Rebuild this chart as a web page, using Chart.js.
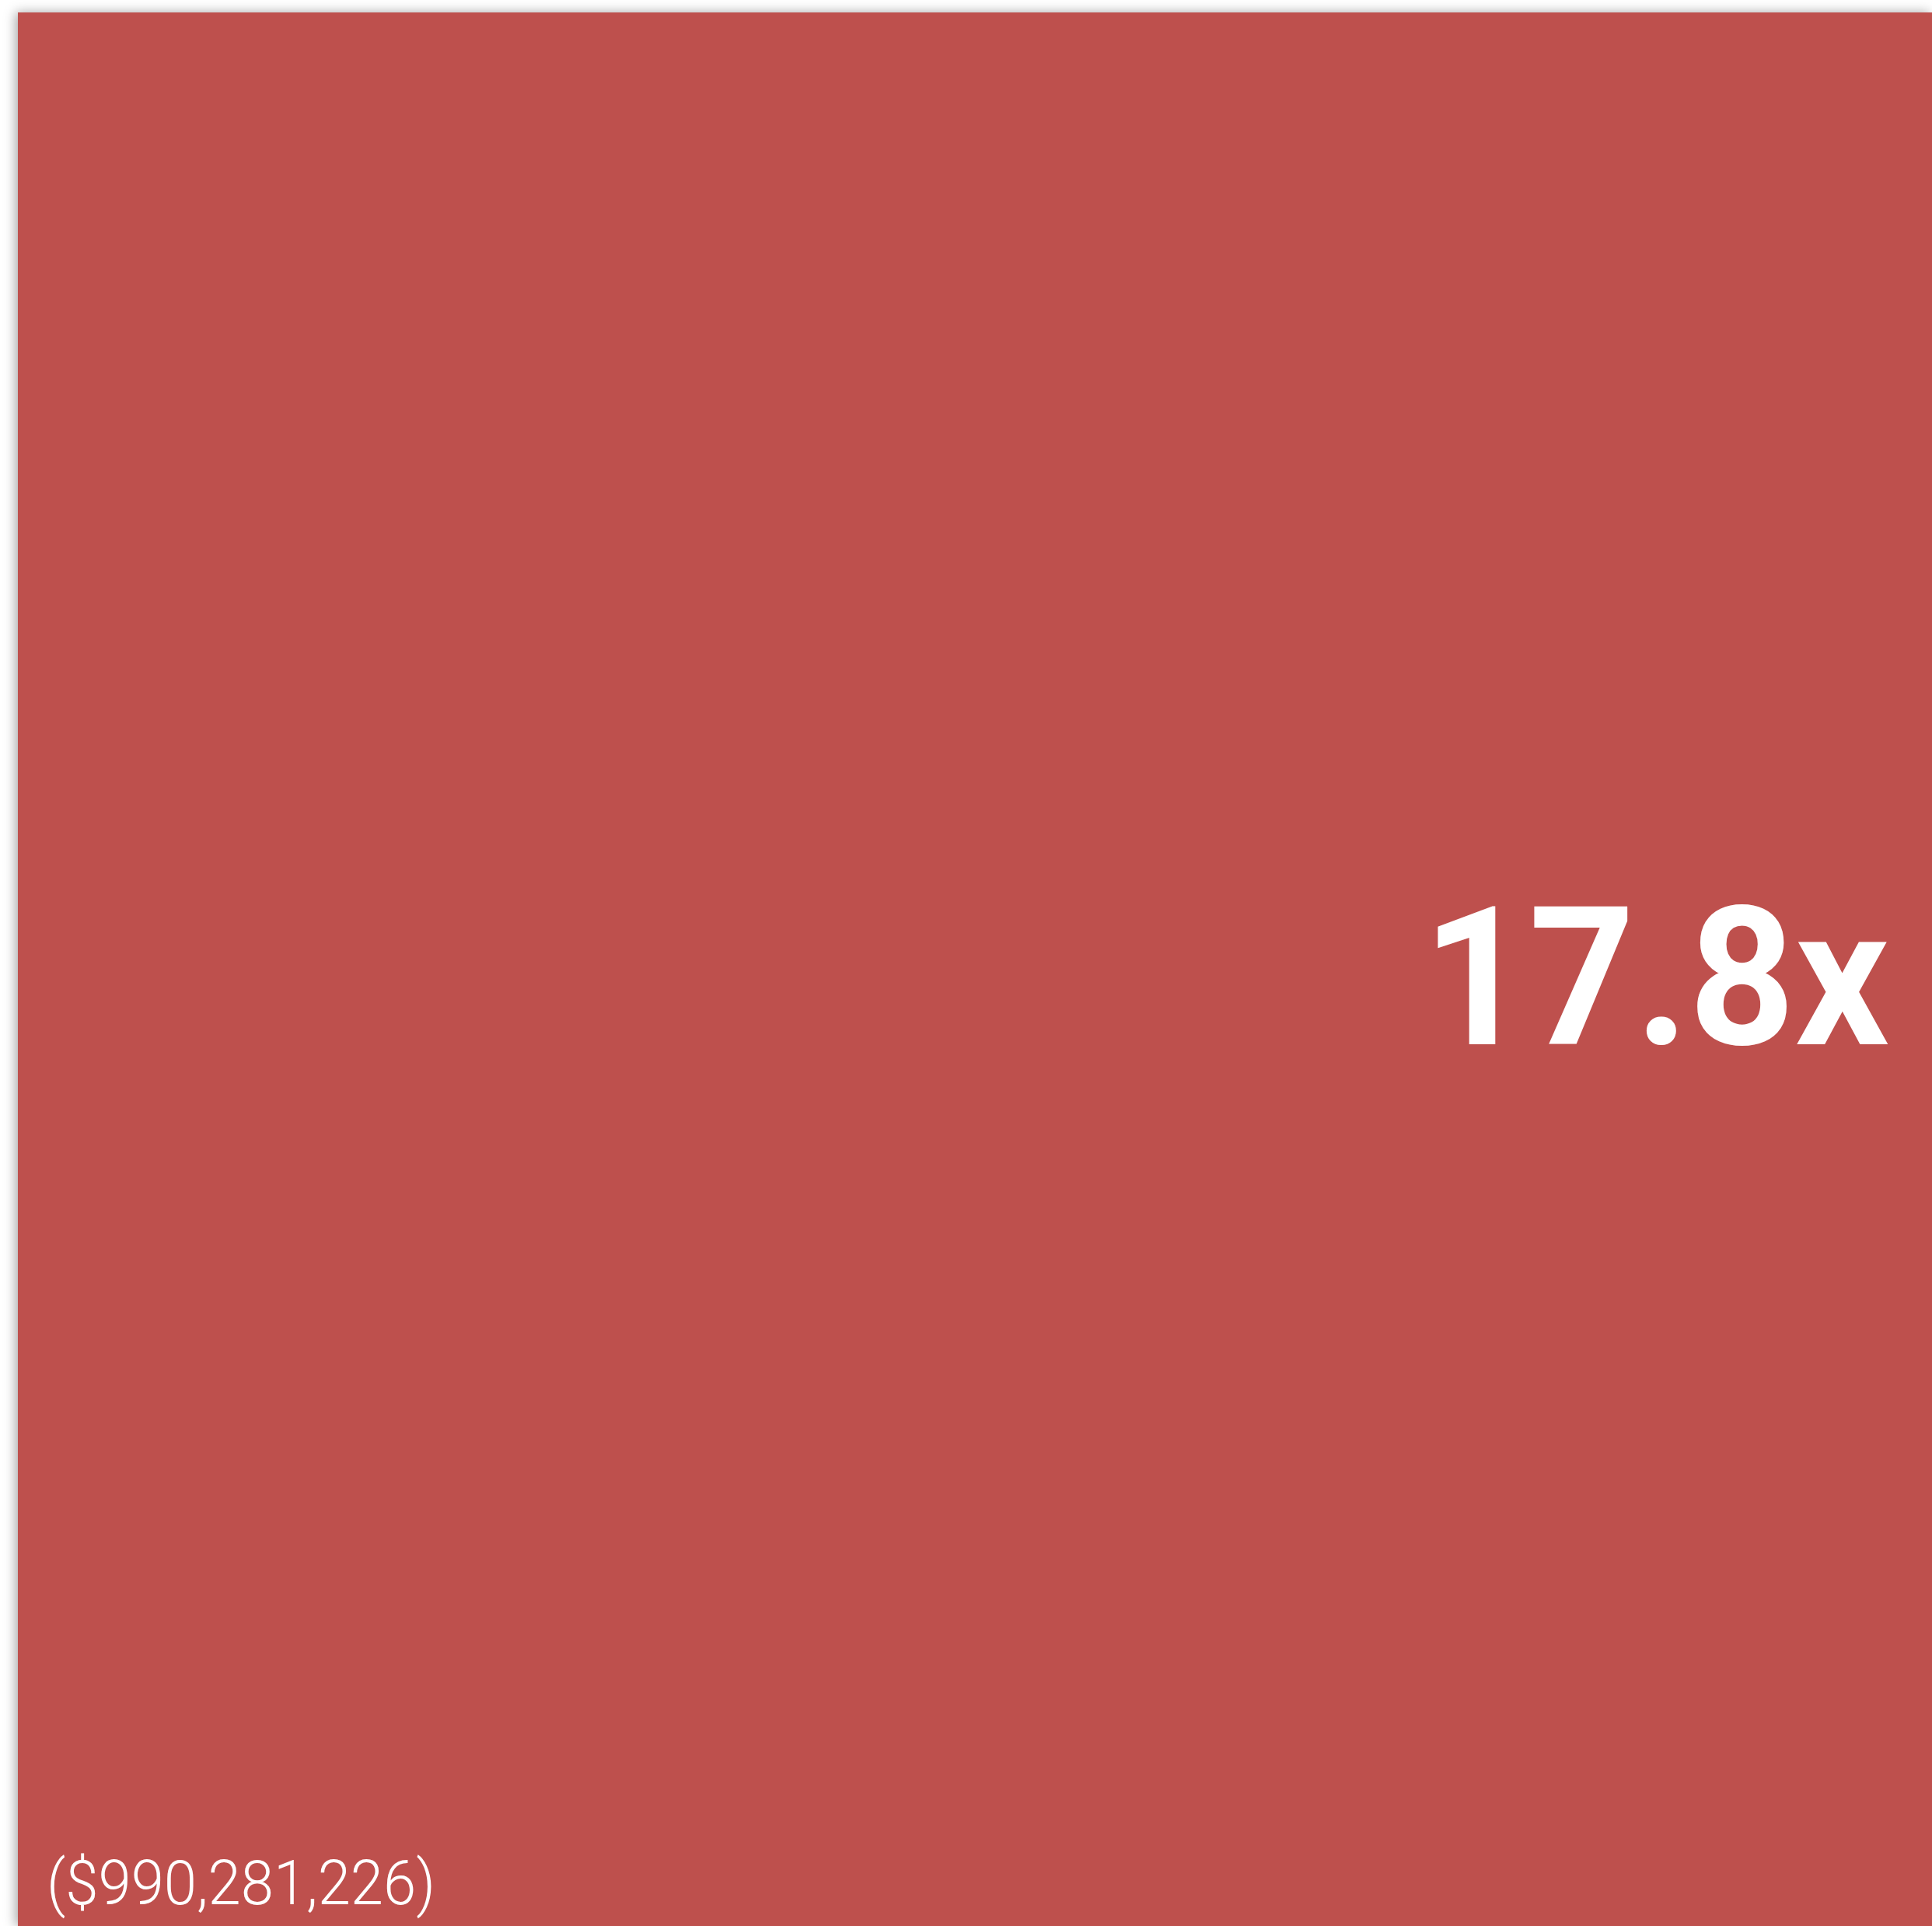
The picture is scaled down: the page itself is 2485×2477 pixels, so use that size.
<!DOCTYPE html>
<html>
	<head>
		<script src="https://cdn.jsdelivr.net/npm/chart.js@4"></script>
		<style>
			html, body { margin: 0; padding: 0; background: #fff; overflow: hidden; }
			#wrap { width: 2485px; height: 2477px; }
		</style>
	</head>
	<body>
		<div id="wrap"><canvas id="myChart"></canvas></div>
		<script>
			// Data
			let labels = ['Total'];
			let values = [990281226];
			let multiples = ['17.8x'];
			let valueLabels = ['($990,281,226)'];

			// Tile fill with a soft shadow, then the two labels on top
			let tileLabels = {
				id: 'tileLabels',
				beforeDatasetsDraw(chart) {
					let ctx = chart.ctx;
					chart.getDatasetMeta(0).data.forEach(bar => {
						let left = bar.x - bar.width / 2;
						ctx.save();
						ctx.shadowColor = 'rgba(0,0,0,0.35)';
						ctx.shadowBlur = 14;
						ctx.shadowOffsetX = -3;
						ctx.fillStyle = '#be504d';
						ctx.fillRect(left, bar.y, bar.width, bar.base - bar.y);
						ctx.restore();
					});
				},
				afterDatasetsDraw(chart) {
					let ctx = chart.ctx;
					chart.getDatasetMeta(0).data.forEach((bar, i) => {
						let left = bar.x - bar.width / 2;
						let right = bar.x + bar.width / 2;
						let mid = (bar.y + bar.base) / 2;
						ctx.save();
						ctx.fillStyle = '#ffffff';
						ctx.textBaseline = 'alphabetic';

						// big multiple, right aligned
						ctx.font = '700 248px Roboto, Inter, sans-serif';
						ctx.save();
						ctx.translate(right - 55, mid + 96);
						let wb = ctx.measureText(multiples[i]).width;
						ctx.scale(600 / wb, 1);
						ctx.textAlign = 'right';
						ctx.fillText(multiples[i], 0, 0);
						ctx.restore();

						// value, bottom left
						ctx.font = '300 79px Roboto, sans-serif';
						ctx.save();
						ctx.translate(left + 37, bar.base - 28);
						let w = ctx.measureText(valueLabels[i]).width;
						ctx.scale(500 / w, 1);
						ctx.textAlign = 'left';
						ctx.fillText(valueLabels[i], 0, 0);
						ctx.restore();

						ctx.restore();
					});
				}
			};

			let ctx = document.getElementById('myChart').getContext('2d');
			let chart = new Chart(ctx, {
				type: 'bar',
				data: {
					labels: labels,
					datasets: [{
						data: values,
						backgroundColor: '#be504d',
						borderWidth: 0,
						barPercentage: 1,
						categoryPercentage: 1
					}]
				},
				options: {
					responsive: true,
					maintainAspectRatio: false,
					animation: false,
					layout: { padding: { left: 23, top: 16, right: 0, bottom: 0 } },
					plugins: { legend: { display: false }, tooltip: { enabled: false } },
					scales: {
						x: { display: false },
						y: { display: false, min: 0, max: values[0] }
					}
				},
				plugins: [tileLabels]
			});
		</script>
	</body>
</html>
